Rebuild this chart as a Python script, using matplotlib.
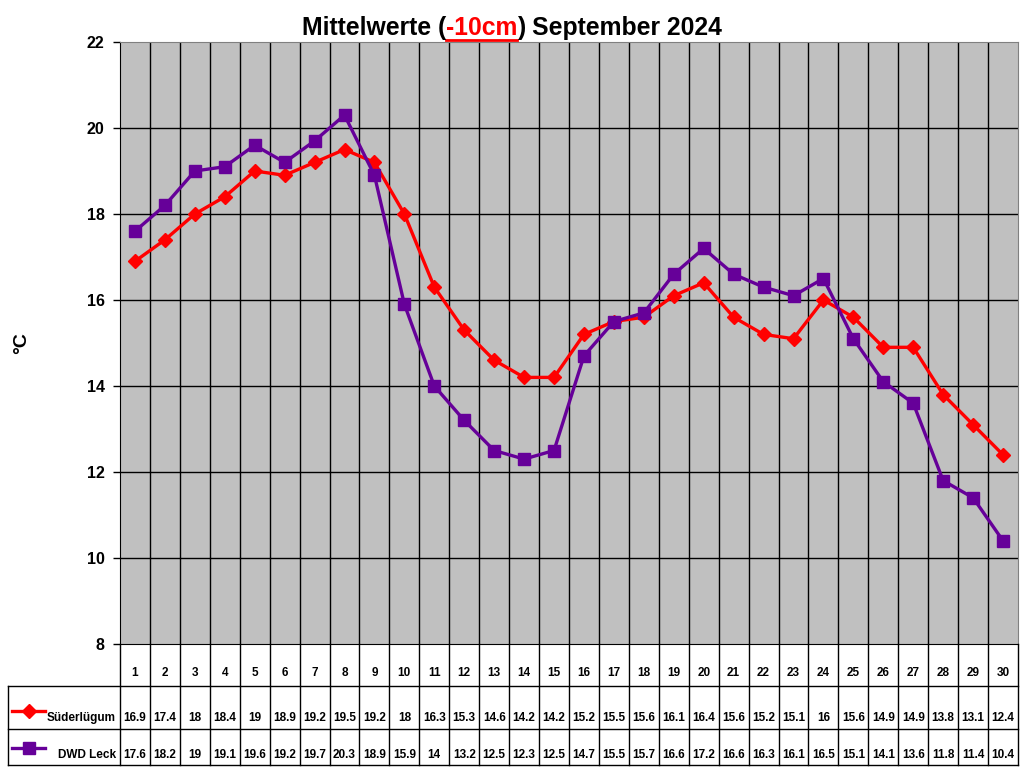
import matplotlib
matplotlib.use("Agg")
import matplotlib.pyplot as plt
from matplotlib.lines import Line2D

plt.rcParams['font.family'] = ['Liberation Sans', 'DejaVu Sans']
plt.rcParams['font.weight'] = 'bold'

days = list(range(1, 31))
sued = [16.9, 17.4, 18, 18.4, 19, 18.9, 19.2, 19.5, 19.2, 18, 16.3, 15.3, 14.6, 14.2, 14.2,
        15.2, 15.5, 15.6, 16.1, 16.4, 15.6, 15.2, 15.1, 16, 15.6, 14.9, 14.9, 13.8, 13.1, 12.4]
dwd = [17.6, 18.2, 19, 19.1, 19.6, 19.2, 19.7, 20.3, 18.9, 15.9, 14, 13.2, 12.5, 12.3, 12.5,
       14.7, 15.5, 15.7, 16.6, 17.2, 16.6, 16.3, 16.1, 16.5, 15.1, 14.1, 13.6, 11.8, 11.4, 10.4]
series_names = ["Süderlügum", "DWD Leck"]
yticks = [8, 10, 12, 14, 16, 18, 20, 22]

RED = "#FF0000"
PURPLE = "#660099"
W, H = 1024, 768
fig = plt.figure(figsize=(W / 100, H / 100), dpi=100)

def fx(px):
    return px / W

def fy(py):
    return 1 - py / H

# plot area in pixels
L, R, T, B = 120, 1018, 42, 644
ax = fig.add_axes([fx(L), fy(B), fx(R - L), (B - T) / H])
ax.set_facecolor("#C0C0C0")
ax.set_xlim(0.5, 30.5)
ax.set_ylim(8, 22)
ax.set_yticks(yticks)
ax.set_yticklabels([str(v) for v in yticks], fontsize=11.5, fontweight='bold')
ax.set_xticks([])
ax.tick_params(axis='y', length=5, width=1, pad=6)
for d in days[:-1]:
    ax.axvline(d + 0.5, color='black', lw=1, zorder=1)
for v in yticks[1:-1]:
    ax.axhline(v, color='black', lw=1, zorder=1)
for s in ['top', 'right']:
    ax.spines[s].set_color('#808080')
ax.spines['left'].set_color('black')
ax.spines['bottom'].set_color('black')

ax.plot(days, sued, color=RED, lw=2.4, marker='D', ms=7, mec=RED, mfc=RED, zorder=3)
ax.plot(days, dwd, color=PURPLE, lw=2.4, marker='s', ms=9, mec=PURPLE, mfc=PURPLE, zorder=4)
fig.text(fx(22), fy(343), "°C", rotation=90, ha='center', va='center', fontsize=14, fontweight='bold')

# table axes: spans x 8..1018, y 644..765 in pixel units
TL, TB = 8, 765
tab = fig.add_axes([fx(TL), fy(TB), fx(R - TL), (TB - B) / H])
unit = (R - L) / 30.0
x_left = 0.5 - (L - TL) / unit
tab.set_xlim(x_left, 30.5)
tab.set_ylim(TB, B)
tab.axis('off')
ROW1, ROW2 = 686, 729
tab.plot([x_left, 30.5], [ROW1, ROW1], color='black', lw=1, clip_on=False)
tab.plot([x_left, 30.5], [ROW2, ROW2], color='black', lw=1, clip_on=False)
tab.plot([x_left, 30.5], [TB, TB], color='black', lw=1, clip_on=False)
for d in range(0, 31):
    tab.plot([d + 0.5, d + 0.5], [B, TB], color='black', lw=1, clip_on=False)
tab.plot([x_left, x_left], [ROW1, TB], color='black', lw=1, clip_on=False)

for d, a, b in zip(days, sued, dwd):
    tab.text(d, 673, str(d), ha='center', va='center', fontsize=8.5, fontweight='bold')
    tab.text(d, 718, "%g" % a, ha='center', va='center', fontsize=8.5, fontweight='bold')
    tab.text(d, 755, "%g" % b, ha='center', va='center', fontsize=8.5, fontweight='bold')

def xu(px):
    return x_left + (px - TL) / unit

for name, col, mk, ms, ytxt, yline in [(series_names[0], RED, 'D', 7, 718, 711),
                                       (series_names[1], PURPLE, 's', 9, 755, 748)]:
    tab.add_line(Line2D([xu(12), xu(45)], [yline, yline], color=col, lw=2.4, clip_on=False))
    tab.plot([xu(28.5)], [yline], marker=mk, ms=ms, color=col, clip_on=False)
    tab.text(xu(116), ytxt, name, ha='right', va='center', fontsize=8.5, fontweight='bold')

# title with coloured part
renderer = fig.canvas.get_renderer()
parts = [("Mittelwerte (", 'black'), ("-10cm", RED), (") September 2024", 'black')]
texts = []
for s, c in parts:
    t = fig.text(0, fy(28), s, color=c, fontsize=17.8, fontweight='bold', va='center', ha='left')
    texts.append(t)
widths = [t.get_window_extent(renderer).width for t in texts]
total = sum(widths)
x0 = 512 - total / 2
x = x0
for t, w in zip(texts, widths):
    t.set_x(fx(x))
    x += w
fig.add_artist(Line2D([fx(x0 + widths[0]), fx(x0 + widths[0] + widths[1])], [fy(40), fy(40)],
                      color=RED, lw=2, transform=fig.transFigure))

fig.savefig("out.png", dpi=100)
